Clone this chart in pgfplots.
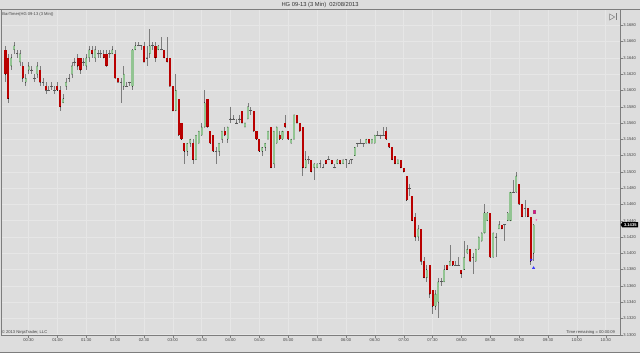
\documentclass[border=0pt]{standalone}
\usepackage{fontspec}
\setmainfont{Liberation Sans}
\usepackage{pgfplots}
\usepackage{pgfplotstable}
\pgfplotsset{compat=1.18}
\definecolor{bgc}{RGB}{221,221,221}
\definecolor{gridc}{RGB}{230,230,230}
\definecolor{upc}{RGB}{146,196,146}
\definecolor{dnc}{RGB}{185,0,0}
\definecolor{wickc}{RGB}{125,125,125}
\definecolor{framec}{RGB}{125,125,125}
\definecolor{dojic}{RGB}{90,90,90}

\pgfplotstableread{
t o h l c
6 3.1650 3.1655 3.1610 3.1620
9 3.1640 3.1645 3.1585 3.1590
12 3.1630 3.1645 3.1625 3.1640
15 3.1650 3.1660 3.1645 3.1655
18 3.1645 3.1650 3.1640 3.1645
21 3.1635 3.1650 3.1630 3.1645
24 3.1630 3.1635 3.1610 3.1615
27 3.1610 3.1620 3.1605 3.1615
30 3.1625 3.1635 3.1620 3.1630
33 3.1625 3.1630 3.1620 3.1625
36 3.1615 3.1620 3.1610 3.1615
39 3.1620 3.1635 3.1615 3.1630
42 3.1625 3.1630 3.1605 3.1610
45 3.1610 3.1615 3.1605 3.1610
48 3.1605 3.1610 3.1595 3.1600
51 3.1600 3.1605 3.1600 3.1600
54 3.1605 3.1610 3.1600 3.1605
57 3.1600 3.1605 3.1595 3.1600
60 3.1605 3.1610 3.1600 3.1600
63 3.1600 3.1605 3.1575 3.1580
66 3.1585 3.1595 3.1585 3.1590
69 3.1605 3.1615 3.1600 3.1610
72 3.1615 3.1620 3.1610 3.1615
75 3.1620 3.1635 3.1615 3.1630
78 3.1635 3.1640 3.1630 3.1635
81 3.1640 3.1645 3.1625 3.1630
84 3.1640 3.1640 3.1620 3.1625
87 3.1635 3.1640 3.1630 3.1635
90 3.1630 3.1645 3.1625 3.1640
93 3.1640 3.1655 3.1635 3.1650
96 3.1650 3.1655 3.1640 3.1645
99 3.1640 3.1655 3.1635 3.1650
102 3.1645 3.1650 3.1640 3.1645
105 3.1645 3.1650 3.1640 3.1645
108 3.1645 3.1650 3.1640 3.1640
111 3.1645 3.1650 3.1630 3.1630
114 3.1645 3.1650 3.1640 3.1645
117 3.1645 3.1655 3.1645 3.1650
120 3.1645 3.1650 3.1615 3.1615
123 3.1615 3.1615 3.1610 3.1610
126 3.1610 3.1615 3.1585 3.1610
129 3.1605 3.1630 3.1600 3.1620
132 3.1605 3.1610 3.1605 3.1605
135 3.1610 3.1610 3.1605 3.1610
138 3.1605 3.1650 3.1600 3.1650
141 3.1650 3.1660 3.1650 3.1655
144 3.1655 3.1660 3.1655 3.1655
147 3.1655 3.1655 3.1650 3.1655
150 3.1655 3.1660 3.1635 3.1635
153 3.1640 3.1655 3.1630 3.1640
156 3.1645 3.1675 3.1640 3.1655
159 3.1655 3.1660 3.1650 3.1655
162 3.1655 3.1660 3.1635 3.1640
165 3.1650 3.1655 3.1650 3.1655
168 3.1650 3.1665 3.1650 3.1650
171 3.1650 3.1650 3.1640 3.1640
174 3.1640 3.1665 3.1635 3.1635
177 3.1640 3.1640 3.1605 3.1605
180 3.1605 3.1605 3.1575 3.1575
183 3.1575 3.1620 3.1575 3.1600
186 3.1590 3.1590 3.1545 3.1545
189 3.1560 3.1560 3.1540 3.1540
192 3.1535 3.1535 3.1510 3.1525
195 3.1525 3.1535 3.1520 3.1535
198 3.1535 3.1540 3.1530 3.1540
201 3.1535 3.1540 3.1510 3.1515
204 3.1515 3.1545 3.1515 3.1545
207 3.1535 3.1550 3.1535 3.1550
210 3.1545 3.1560 3.1545 3.1555
213 3.1555 3.1600 3.1555 3.1585
216 3.1590 3.1590 3.1555 3.1555
219 3.1550 3.1550 3.1535 3.1535
222 3.1545 3.1545 3.1525 3.1525
225 3.1525 3.1530 3.1510 3.1525
228 3.1525 3.1535 3.1520 3.1535
231 3.1540 3.1550 3.1535 3.1550
234 3.1550 3.1555 3.1545 3.1545
237 3.1540 3.1555 3.1535 3.1555
240 3.1565 3.1580 3.1560 3.1565
243 3.1565 3.1570 3.1565 3.1565
246 3.1560 3.1565 3.1560 3.1560
249 3.1565 3.1570 3.1560 3.1565
252 3.1575 3.1575 3.1560 3.1560
255 3.1555 3.1560 3.1555 3.1560
258 3.1565 3.1585 3.1565 3.1580
261 3.1575 3.1580 3.1570 3.1575
264 3.1575 3.1575 3.1550 3.1550
267 3.1550 3.1550 3.1540 3.1540
270 3.1540 3.1540 3.1525 3.1525
273 3.1525 3.1530 3.1520 3.1530
276 3.1530 3.1535 3.1525 3.1535
279 3.1540 3.1550 3.1540 3.1550
282 3.1555 3.1555 3.1505 3.1505
285 3.1510 3.1550 3.1505 3.1550
288 3.1535 3.1555 3.1535 3.1555
291 3.1545 3.1550 3.1540 3.1540
294 3.1540 3.1550 3.1540 3.1550
297 3.1560 3.1570 3.1555 3.1555
300 3.1550 3.1550 3.1540 3.1540
303 3.1535 3.1540 3.1535 3.1540
306 3.1540 3.1570 3.1540 3.1570
309 3.1570 3.1570 3.1560 3.1560
312 3.1560 3.1560 3.1550 3.1550
315 3.1555 3.1555 3.1495 3.1505
318 3.1505 3.1525 3.1505 3.1515
321 3.1515 3.1520 3.1510 3.1515
324 3.1515 3.1515 3.1500 3.1500
327 3.1505 3.1510 3.1490 3.1510
330 3.1505 3.1510 3.1505 3.1510
333 3.1510 3.1515 3.1505 3.1510
336 3.1505 3.1510 3.1505 3.1505
339 3.1515 3.1515 3.1510 3.1510
342 3.1515 3.1520 3.1515 3.1515
345 3.1515 3.1515 3.1510 3.1510
348 3.1505 3.1510 3.1505 3.1505
351 3.1510 3.1515 3.1510 3.1515
354 3.1515 3.1515 3.1510 3.1510
357 3.1510 3.1515 3.1510 3.1515
360 3.1515 3.1515 3.1505 3.1515
363 3.1510 3.1515 3.1510 3.1510
366 3.1515 3.1515 3.1510 3.1515
369 3.1520 3.1530 3.1520 3.1530
372 3.1535 3.1535 3.1530 3.1535
375 3.1535 3.1540 3.1535 3.1535
378 3.1535 3.1535 3.1530 3.1535
381 3.1535 3.1540 3.1535 3.1540
384 3.1540 3.1540 3.1535 3.1535
387 3.1535 3.1540 3.1535 3.1540
390 3.1535 3.1545 3.1535 3.1545
393 3.1545 3.1550 3.1545 3.1545
396 3.1545 3.1545 3.1540 3.1545
399 3.1545 3.1555 3.1545 3.1545
402 3.1550 3.1555 3.1540 3.1540
405 3.1535 3.1535 3.1530 3.1530
408 3.1530 3.1530 3.1515 3.1515
411 3.1520 3.1520 3.1510 3.1510
414 3.1510 3.1515 3.1510 3.1515
417 3.1515 3.1515 3.1505 3.1505
420 3.1505 3.1505 3.1500 3.1500
423 3.1495 3.1495 3.1465 3.1465
426 3.1480 3.1485 3.1470 3.1480
429 3.1470 3.1470 3.1440 3.1440
432 3.1445 3.1450 3.1415 3.1420
435 3.1420 3.1435 3.1415 3.1430
438 3.1430 3.1430 3.1385 3.1390
441 3.1390 3.1395 3.1370 3.1370
444 3.1370 3.1385 3.1365 3.1380
447 3.1385 3.1385 3.1345 3.1350
450 3.1355 3.1355 3.1325 3.1335
453 3.1335 3.1355 3.1330 3.1350
456 3.1340 3.1370 3.1320 3.1365
459 3.1365 3.1370 3.1360 3.1365
462 3.1365 3.1385 3.1365 3.1380
465 3.1385 3.1385 3.1380 3.1380
468 3.1385 3.1410 3.1385 3.1390
471 3.1390 3.1390 3.1385 3.1385
474 3.1385 3.1390 3.1385 3.1385
477 3.1385 3.1395 3.1385 3.1385
480 3.1380 3.1380 3.1370 3.1375
483 3.1380 3.1415 3.1380 3.1395
486 3.1400 3.1410 3.1400 3.1405
489 3.1405 3.1405 3.1390 3.1390
492 3.1395 3.1400 3.1375 3.1395
495 3.1390 3.1405 3.1390 3.1405
498 3.1405 3.1420 3.1405 3.1420
501 3.1415 3.1425 3.1415 3.1425
504 3.1425 3.1460 3.1425 3.1450
507 3.1440 3.1450 3.1440 3.1450
510 3.1450 3.1450 3.1395 3.1395
513 3.1395 3.1425 3.1395 3.1425
516 3.1420 3.1425 3.1395 3.1420
519 3.1430 3.1440 3.1430 3.1435
522 3.1435 3.1435 3.1430 3.1430
525 3.1435 3.1435 3.1415 3.1435
528 3.1440 3.1450 3.1440 3.1450
531 3.1440 3.1475 3.1440 3.1475
534 3.1475 3.1490 3.1475 3.1475
537 3.1475 3.1500 3.1475 3.1495
540 3.1485 3.1485 3.1460 3.1460
543 3.1460 3.1460 3.1445 3.1445
546 3.1455 3.1465 3.1445 3.1455
549 3.1455 3.1455 3.1445 3.1445
552 3.1445 3.1445 3.1385 3.1390
555 3.1400 3.1435 3.1390 3.1435
}\candles

\begin{document}
\begin{tikzpicture}[x=1pt,y=1pt]
\fill[bgc] (0,0) rectangle (640,353);
\draw[framec, line width=0.6pt] (0,343.5) -- (640,343.5);
\draw[framec, line width=0.6pt] (0,0.8) -- (640,0.8);
\node[font=\fontsize{5.8}{7}\selectfont, text=black!80, inner sep=0pt] at (320,348.3) {HG 09-13 (3 Min)\ \ 02/08/2013};
\begin{axis}[
  at={(1pt,17pt)}, anchor=south west, scale only axis,
  width=619.7pt, height=326.5pt,
  xmin=1.65, xmax=645.3, ymin=3.12988, ymax=3.16994,
  axis background/.style={fill=bgc},
  axis line style={framec, line width=0.6pt},
  xtick={30,60,...,630},
  xticklabels={00:30,01:00,01:30,02:00,02:30,03:00,03:30,04:00,04:30,05:00,05:30,06:00,06:30,07:00,07:30,08:00,08:30,09:00,09:30,10:00,10:30},
  ytick={3.1300,3.1320,3.1340,3.1360,3.1380,3.1400,3.1420,3.1440,3.1460,3.1480,3.1500,3.1520,3.1540,3.1560,3.1580,3.1600,3.1620,3.1640,3.1660,3.1680},
  yticklabels={3.1300,3.1320,3.1340,3.1360,3.1380,3.1400,3.1420,3.1440,3.1460,3.1480,3.1500,3.1520,3.1540,3.1560,3.1580,3.1600,3.1620,3.1640,3.1660,3.1680},
  ytick pos=right, yticklabel pos=right, xtick pos=bottom,
  tick align=outside, major tick length=2.2pt,
  tick style={framec, line width=0.4pt},
  ticklabel style={font=\fontsize{4.1}{5}\selectfont, text=black!75, inner sep=0.6pt},
  xmajorgrids, ymajorgrids, grid style={gridc, line width=0.5pt},
  clip=true,
  hidemark/.style={only marks, mark=*, mark size=0.1pt, mark options={draw=none, fill=none}},
]
% wicks
\addplot[hidemark,
  error bars/.cd, y dir=both, y explicit, error mark=none,
  error bar style={draw=wickc, line width=0.6pt}]
  table[x=t, y=c, y error plus expr=\thisrow{h}-\thisrow{c}, y error minus expr=\thisrow{c}-\thisrow{l}] {\candles};
% up bodies
\addplot[hidemark,
  y filter/.expression={\thisrow{c}>\thisrow{o} ? y : nan},
  error bars/.cd, y dir=plus, y explicit, error mark=none,
  error bar style={draw=upc, line width=2.1pt}]
  table[x=t, y=o, y error plus expr=\thisrow{c}-\thisrow{o}] {\candles};
% down bodies
\addplot[hidemark,
  y filter/.expression={\thisrow{c}<\thisrow{o} ? y : nan},
  error bars/.cd, y dir=plus, y explicit, error mark=none,
  error bar style={draw=dnc, line width=2.1pt}]
  table[x=t, y=c, y error plus expr=\thisrow{o}-\thisrow{c}] {\candles};
% doji
\addplot[only marks, mark=-, mark size=1.3pt, mark options={draw=dojic, fill=dojic, line width=0.6pt},
  y filter/.expression={abs(\thisrow{c}-\thisrow{o})<0.0001 ? y : nan}]
  table[x=t, y=c] {\candles};
% strategy markers
\addplot[only marks, mark=square*, mark size=1.4pt, mark options={fill=magenta, draw=magenta!70!black, xscale=0.6, yscale=1.3}]
  coordinates {(556,3.1451)};
\addplot[only marks, mark=*, mark size=0.6pt, mark options={fill=magenta!60, draw=magenta!60}]
  coordinates {(558,3.1441)};
\addplot[only marks, mark=triangle*, mark size=1.3pt, mark options={fill=blue!80, draw=blue!80}]
  coordinates {(555,3.1382)};
\addplot[only marks, mark=triangle*, mark size=1.1pt, mark options={fill=blue!80, draw=blue!80, rotate=-90}]
  coordinates {(552.5,3.1392)};
\end{axis}
\node[font=\fontsize{4.1}{5}\selectfont, text=black!75, anchor=west, inner sep=0pt] at (2,339) {BarTimer(HG 09-13 (3 Min))};
\node[font=\fontsize{4.1}{5}\selectfont, text=black!75, anchor=west, inner sep=0pt] at (1.5,20.3) {\textcopyright{} 2013 NinjaTrader, LLC};
\node[font=\fontsize{4.1}{5}\selectfont, text=black!75, anchor=east, inner sep=0pt] at (615.5,20.5) {Time remaining = 00:00:09};
\draw[framec, line width=0.5pt] (610,339) -- (615,336) -- (610,333) -- cycle;
\draw[framec, line width=0.6pt] (616.3,339.5) -- (616.3,332.5);
\fill[black] (620.9,128) -- (622.6,130.6) -- (638.5,130.6) -- (638.5,125.4) -- (622.6,125.4) -- cycle;
\node[font=\bfseries\fontsize{4.1}{5}\selectfont, text=white, inner sep=0pt] at (630.6,128) {3.1435};
\end{tikzpicture}
\end{document}
